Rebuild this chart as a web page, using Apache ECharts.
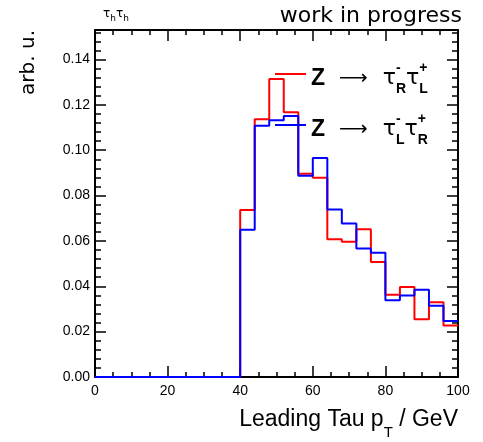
<!DOCTYPE html>
<html>
<head>
<meta charset="utf-8">
<script src="https://cdn.jsdelivr.net/npm/echarts@6/dist/echarts.min.js"></script>
<style>
html, body { margin: 0; padding: 0; background: #fff; }
#chart { width: 483px; height: 442px; }
</style>
</head>
<body>
<div id="chart"></div>
<script>
// bin edges in GeV (4 GeV bins, 0..100)
const binEdges = [0, 4, 8, 12, 16, 20, 24, 28, 32, 36, 40, 44, 48, 52, 56, 60, 64, 68, 72, 76, 80, 84, 88, 92, 96, 100]
// Z -> tau_R tau_L
const redValues = [0, 0, 0, 0, 0, 0, 0, 0, 0, 0,
    0.0736, 0.1136, 0.1314, 0.1167, 0.0896, 0.0879, 0.0607, 0.0596, 0.0652, 0.0507,
    0.0363, 0.0397, 0.0255, 0.0330, 0.0227]
// Z -> tau_L tau_R
const blueValues = [0, 0, 0, 0, 0, 0, 0, 0, 0, 0,
    0.0649, 0.1108, 0.1132, 0.1151, 0.0887, 0.0966, 0.0738, 0.0677, 0.0567, 0.0548,
    0.0338, 0.0359, 0.0385, 0.0314, 0.0247]
const seriesNames = ['Z → τR τL', 'Z → τL τR']

const BLACK = '#000'
const tickFont = 'Liberation Sans, Arial, sans-serif'
const textFont = 'DejaVu Sans, sans-serif'

// step line: point at each left edge, last point closes the final bin
const toSteps = vals => binEdges.map((e, i) => [e, vals[Math.min(i, vals.length - 1)]])

const tickLine = { color: BLACK, width: 1.5 }
const axisLineBlack = { show: true, onZero: false, lineStyle: { color: BLACK, width: 2 } }

// x frame (bottom + top): major every 20, minor every 5
const xFrame = {
    type: 'value', min: 0, max: 100, splitNumber: 5,
    axisLine: axisLineBlack,
    axisTick: { show: true, inside: true, length: 11, lineStyle: tickLine },
    minorTick: { show: true, splitNumber: 4, length: 5, lineStyle: tickLine },
    splitLine: { show: false }
}
// y frame (left + right): major every 0.02, minor every 0.004
const yFrame = {
    type: 'value', min: 0, max: 0.153, splitNumber: 8,
    axisLine: axisLineBlack,
    axisTick: { show: true, inside: true, length: 11, lineStyle: tickLine },
    minorTick: { show: true, splitNumber: 5, length: 6, lineStyle: tickLine },
    splitLine: { show: false }
}

const chart = echarts.init(document.getElementById('chart'))
chart.setOption({
    animation: false,
    title: [
        {
            text: 'work in progress',
            right: 16, top: 0,
            textStyle: { fontFamily: textFont, fontWeight: 'normal', fontSize: 22, color: BLACK }
        },
        {
            text: '{t|τ}{s|h}{t|τ}{s|h}',
            left: 98, top: 3,
            textStyle: {
                fontWeight: 'normal',
                rich: {
                    t: { fontFamily: textFont, fontWeight: 'normal', fontSize: 12, color: BLACK, lineHeight: 15, verticalAlign: 'top' },
                    s: { fontFamily: textFont, fontWeight: 'normal', fontSize: 9, color: BLACK, lineHeight: 15, verticalAlign: 'bottom' }
                }
            }
        }
    ],
    legend: {
        orient: 'vertical',
        left: 270, top: 56,
        icon: 'rect',
        itemWidth: 31, itemHeight: 2,
        itemGap: 16,
        data: seriesNames,
        formatter: name => name === seriesNames[0]
            ? '{z|Z}{a|⟶}{t|τ}{p|-}{b|R}{t|τ}{p|+}{b|L}'
            : '{z|Z}{a|⟶}{t|τ}{p|-}{b|L}{t|τ}{p|+}{b|R}',
        textStyle: {
            padding: [9, 0, 0, 0],
            rich: {
                z: { fontFamily: tickFont, fontWeight: 'bold', fontSize: 23, color: BLACK, lineHeight: 35 },
                a: { fontFamily: textFont, fontSize: 20, color: BLACK, padding: [0, 15, 0, 14], lineHeight: 35 },
                t: { fontFamily: textFont, fontSize: 22, color: BLACK, lineHeight: 35 },
                p: { fontFamily: tickFont, fontWeight: 'bold', fontSize: 14, color: BLACK, verticalAlign: 'top', width: 0, lineHeight: 14 },
                b: { fontFamily: tickFont, fontWeight: 'bold', fontSize: 14, color: BLACK, verticalAlign: 'bottom', lineHeight: 14 }
            }
        }
    },
    grid: { left: 95, right: 25, top: 30, bottom: 65 },
    xAxis: [
        Object.assign({}, xFrame, {
            position: 'bottom',
            axisLabel: { fontFamily: tickFont, fontSize: 14, color: BLACK, margin: 7 },
            name: 'Leading Tau p{s|T} / GeV',
            nameLocation: 'end',
            nameGap: 0,
            nameTextStyle: {
                fontFamily: tickFont, fontSize: 23, color: BLACK,
                align: 'right', verticalAlign: 'top', padding: [31, 0, 0, 0],
                rich: { s: { fontFamily: tickFont, fontSize: 15, color: BLACK, verticalAlign: 'bottom', padding: [0, 0, -9, 0] } }
            }
        }),
        Object.assign({}, xFrame, {
            position: 'top',
            axisLabel: { show: false }
        })
    ],
    yAxis: [
        Object.assign({}, yFrame, {
            position: 'left',
            axisLabel: {
                fontFamily: tickFont, fontSize: 14, color: BLACK, margin: 5,
                showMaxLabel: false,
                formatter: v => v.toFixed(2)
            },
            name: 'arb. u.',
            nameLocation: 'end',
            nameGap: 0,
            nameRotate: 90,
            nameTextStyle: {
                fontFamily: textFont, fontSize: 20, color: BLACK,
                align: 'right', verticalAlign: 'bottom', padding: [0, 0, 56, 0]
            }
        }),
        Object.assign({}, yFrame, {
            position: 'right',
            axisLabel: { show: false }
        })
    ],
    series: [
        {
            name: seriesNames[0],
            type: 'line',
            step: 'end',
            symbol: 'none',
            color: '#ff0000',
            lineStyle: { width: 2, color: '#ff0000' },
            data: toSteps(redValues)
        },
        {
            name: seriesNames[1],
            type: 'line',
            step: 'end',
            symbol: 'none',
            color: '#0000ff',
            lineStyle: { width: 2, color: '#0000ff' },
            data: toSteps(blueValues)
        }
    ]
})
</script>
</body>
</html>
